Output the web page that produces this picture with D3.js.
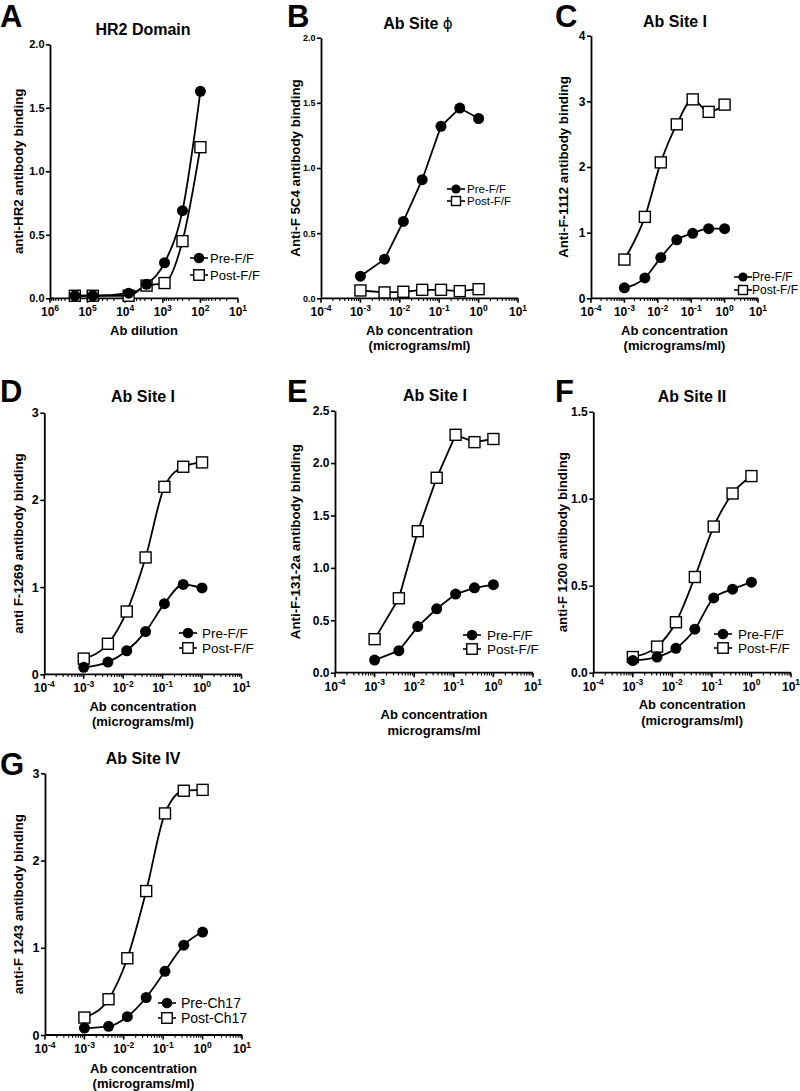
<!DOCTYPE html>
<html><head><meta charset="utf-8">
<script src="https://cdn.jsdelivr.net/npm/d3@7"></script>
<style>body{margin:0;background:#fff}svg{display:block}text{font-family:"Liberation Sans",Arial,sans-serif}</style>
</head><body><svg id="c" width="800" height="1091"></svg>
<script>
// ---- data ----
const dilutions = [218700, 72900, 8100, 2700, 900, 300, 100];
const concentrations = [0.001, 0.0041, 0.0123, 0.037, 0.111, 0.333, 1];
const hr2Pre  = [0.02, 0.02, 0.04, 0.11, 0.28, 0.69, 1.63];
const hr2Post = [0.02, 0.02, 0.02, 0.10, 0.12, 0.45, 1.19];
const f5c4Pre  = [0.17, 0.30, 0.59, 0.91, 1.32, 1.46, 1.38];
const f5c4Post = [0.06, 0.045, 0.05, 0.065, 0.065, 0.055, 0.07];
const f1112Pre  = [0.16, 0.31, 0.62, 0.89, 0.99, 1.06, 1.06];
const f1112Post = [0.59, 1.24, 2.07, 2.65, 3.03, 2.84, 2.95];
const f1269Pre  = [0.08, 0.14, 0.27, 0.49, 0.81, 1.03, 0.99];
const f1269Post = [0.18, 0.35, 0.72, 1.34, 2.15, 2.38, 2.43];
const f131Pre  = [0.12, 0.21, 0.44, 0.61, 0.75, 0.81, 0.84];
const f131Post = [0.32, 0.71, 1.35, 1.86, 2.27, 2.20, 2.23];
const f1200Pre  = [0.07, 0.09, 0.14, 0.25, 0.43, 0.48, 0.52];
const f1200Post = [0.09, 0.15, 0.29, 0.55, 0.84, 1.03, 1.13];
const f1243Pre  = [0.08, 0.10, 0.21, 0.43, 0.73, 1.03, 1.18];
const f1243Post = [0.20, 0.41, 0.88, 1.65, 2.54, 2.80, 2.81];
const dilutionExponents = [6, 5, 4, 3, 2, 1];
const concExponents = [-4, -3, -2, -1, 0, 1];
const ticks2 = [0, 0.5, 1.0, 1.5, 2.0];
const ticks4 = [0, 1, 2, 3, 4];
const ticks3 = [0, 1, 2, 3];
const ticks25 = [0, 0.5, 1.0, 1.5, 2.0, 2.5];
const ticks15 = [0, 0.5, 1.0, 1.5];
const legendFF = ["Pre-F/F", "Post-F/F"];
const legendCh = ["Pre-Ch17", "Post-Ch17"];
const concTitle = ["Ab concentration", "(micrograms/ml)"];

// ---- layout ----
const panels = [
 {letter:"A", lx:0, lb:27, title:["HR2 Domain"], tx:143, tb:35, x:dilutions, xdom:[1e6,1e1], exps:dilutionExponents,
  pre:hr2Pre, post:hr2Post, x0:50, x1:238, yT:44.3, yB:298.3, ymax:2, yt:ticks2, yf:".1f", yfs:11,
  ylab:"anti-HR2 antibody binding", ylx:18, xt:["Ab dilution"], xto:[36.5], leg:legendFF, lfs:13, lcx:199, ltx:210, ly:[258,275], smooth:true},
 {letter:"B", lx:287, lb:27, title:["Ab Site ", "\u03D5"], tx:418, tb:28.5, x:concentrations, xdom:[1e-4,1e1], exps:concExponents,
  pre:f5c4Pre, post:f5c4Post, x0:321, x1:518, yT:37.7, yB:298.3, ymax:2, yt:ticks2, yf:".1f", yfs:9,
  ylab:"Anti-F 5C4 antibody binding", ylx:295, xt:concTitle, xto:[36.5,52], leg:legendFF, lfs:11.5, lcx:456, ltx:467, ly:[189,201], smooth:false},
 {letter:"C", lx:555, lb:27, title:["Ab Site I"], tx:675, tb:26.7, x:concentrations, xdom:[1e-4,1e1], exps:concExponents,
  pre:f1112Pre, post:f1112Post, x0:591, x1:758, yT:35.7, yB:298.3, ymax:4, yt:ticks4, yf:"d", yfs:12,
  ylab:"Anti-F-1112 antibody binding", ylx:563, xt:concTitle, xto:[36.5,52], leg:legendFF, lfs:12, lcx:743, ltx:752, ly:[277,290], smooth:true},
 {letter:"D", lx:0, lb:402, title:["Ab Site I"], tx:143, tb:401.7, x:concentrations, xdom:[1e-4,1e1], exps:concExponents,
  pre:f1269Pre, post:f1269Post, x0:44.3, x1:241.5, yT:412.7, yB:674.3, ymax:3, yt:ticks3, yf:"d", yfs:12.5,
  ylab:"anti F-1269 antibody binding", ylx:18, xt:concTitle, xto:[36.5,51.5], leg:legendFF, lfs:13.5, lcx:188, ltx:202, ly:[633,648], smooth:true},
 {letter:"E", lx:287, lb:402, title:["Ab Site I"], tx:435, tb:400.7, x:concentrations, xdom:[1e-4,1e1], exps:concExponents,
  pre:f131Pre, post:f131Post, x0:335, x1:533, yT:410.7, yB:672.7, ymax:2.5, yt:ticks25, yf:".1f", yfs:12,
  ylab:"Anti-F-131-2a antibody binding", ylx:295, xt:["Ab concentration","micrograms/ml"], xto:[46.5,62], leg:legendFF, lfs:13.5, lcx:472, ltx:487, ly:[635,649], smooth:false},
 {letter:"F", lx:555, lb:402, title:["Ab Site II"], tx:692, tb:401.7, x:concentrations, xdom:[1e-4,1e1], exps:concExponents,
  pre:f1200Pre, post:f1200Post, x0:593.3, x1:791, yT:411.7, yB:672.7, ymax:1.5, yt:ticks15, yf:".1f", yfs:12,
  ylab:"anti-F 1200 antibody binding", ylx:562, xt:concTitle, xto:[36.5,52], leg:legendFF, lfs:13.5, lcx:723, ltx:738, ly:[634,648], smooth:true},
 {letter:"G", lx:0, lb:775, title:["Ab Site IV"], tx:143, tb:764, x:concentrations, xdom:[1e-4,1e1], exps:concExponents,
  pre:f1243Pre, post:f1243Post, x0:45, x1:242, yT:773.3, yB:1035, ymax:3, yt:ticks3, yf:"d", yfs:12.5,
  ylab:"anti-F 1243 antibody binding", ylx:18, xt:concTitle, xto:[38,53], leg:legendCh, lfs:14, lcx:167, ltx:181, ly:[1003,1018], smooth:true}
];

const svg = d3.select("#c");
const R = 5.5, S = 11;

function circle(g, cx, cy, r){ g.append("circle").attr("cx",cx).attr("cy",cy).attr("r",r||R).attr("fill","#000"); }
function square(g, cx, cy, s){ s = s||S; g.append("rect").attr("x",cx-s/2).attr("y",cy-s/2).attr("width",s).attr("height",s)
  .attr("fill","#fff").attr("stroke","#000").attr("stroke-width",1.4); }

panels.forEach(p => {
  const g = svg.append("g");
  const x = d3.scaleLog().domain(p.xdom).range([p.x0, p.x1]);
  const y = d3.scaleLinear().domain([0, p.ymax]).range([p.yB, p.yT]);

  // letter & title
  g.append("text").attr("x",p.lx).attr("y",p.lb).attr("font-size",31).attr("font-weight","bold").text(p.letter);
  const tt = g.append("text").attr("x",p.tx).attr("y",p.tb).attr("text-anchor","middle").attr("font-size",16).attr("font-weight","bold");
  tt.append("tspan").text(p.title[0]);
  if (p.title[1]) tt.append("tspan").attr("font-weight","normal").attr("font-family","DejaVu Sans, sans-serif").attr("font-size",15).text(p.title[1]);

  // y axis
  const ya = g.append("g").attr("transform",`translate(${p.x0},0)`)
    .call(d3.axisLeft(y).tickValues(p.yt).tickFormat(d3.format(p.yf)).tickSize(4).tickSizeOuter(0).tickPadding(1.5));
  ya.select(".domain").attr("stroke-width",1.8);
  ya.selectAll(".tick line").attr("stroke-width",1.6);
  ya.selectAll(".tick text").attr("font-size",p.yfs).attr("font-weight","bold").attr("font-family","Liberation Sans, Arial, sans-serif");

  // x axis (log, with minor ticks)
  const lo = Math.min(...p.xdom), hi = Math.max(...p.xdom);
  const minor = [];
  for (let e = Math.round(Math.log10(lo)); e < Math.round(Math.log10(hi)); e++)
    for (let m = 2; m <= 9; m++) minor.push(m * Math.pow(10, e));
  const xa = g.append("g").attr("transform",`translate(0,${p.yB})`);
  xa.append("line").attr("x1",p.x0).attr("x2",p.x1).attr("stroke","#000").attr("stroke-width",1.8);
  xa.selectAll(".mn").data(minor).join("line").attr("x1",d=>x(d)).attr("x2",d=>x(d)).attr("y1",0).attr("y2",2.8)
    .attr("stroke","#000").attr("stroke-width",1.1);
  p.exps.forEach(e => {
    const v = Math.pow(10, e), px = x(v);
    xa.append("line").attr("x1",px).attr("x2",px).attr("y1",0).attr("y2",4.5).attr("stroke","#000").attr("stroke-width",1.6);
    const t = xa.append("text").attr("x",px).attr("y",18).attr("text-anchor","middle").attr("font-weight","bold").attr("font-size",12);
    t.append("tspan").text("10");
    t.append("tspan").attr("dy",-5.5).attr("font-size",8.5).text(String(e));
  });

  // axis titles
  p.xt.forEach((s,i) => g.append("text").attr("x",(p.x0+p.x1)/2).attr("y",p.yB+p.xto[i]).attr("text-anchor","middle")
    .attr("font-size",13).attr("font-weight","bold").text(s));
  g.append("text").attr("transform",`translate(${p.ylx},${(p.yT+p.yB)/2}) rotate(-90)`).attr("text-anchor","middle")
    .attr("dominant-baseline","central").attr("font-size",13.3).attr("font-weight","bold").text(p.ylab);

  // lines
  const line = d3.line().x(d=>x(d[0])).y(d=>y(d[1])).curve(p.smooth ? d3.curveMonotoneX : d3.curveLinear);
  const pre = p.x.map((v,i)=>[v,p.pre[i]]), post = p.x.map((v,i)=>[v,p.post[i]]);
  const sorted = a => a.slice().sort((a,b)=>x(a[0])-x(b[0]));
  [post, pre].forEach(s => g.append("path").attr("d",line(sorted(s))).attr("fill","none").attr("stroke","#000").attr("stroke-width",1.8));
  post.forEach(d => square(g, x(d[0]), y(d[1])));
  pre.forEach(d => circle(g, x(d[0]), y(d[1])));

  // legend
  const small = p.lfs < 12.5;
  [0,1].forEach(i => {
    const cy = p.ly[i];
    g.append("line").attr("x1",p.lcx-9).attr("x2",p.lcx+9).attr("y1",cy).attr("y2",cy).attr("stroke","#000").attr("stroke-width",1.6);
    if (i===0) circle(g, p.lcx, cy, small?4.6:5.3); else square(g, p.lcx, cy, small?9:10.5);
    g.append("text").attr("x",p.ltx).attr("y",cy).attr("dominant-baseline","central").attr("font-size",p.lfs).text(p.leg[i]);
  });
});
</script></body></html>
